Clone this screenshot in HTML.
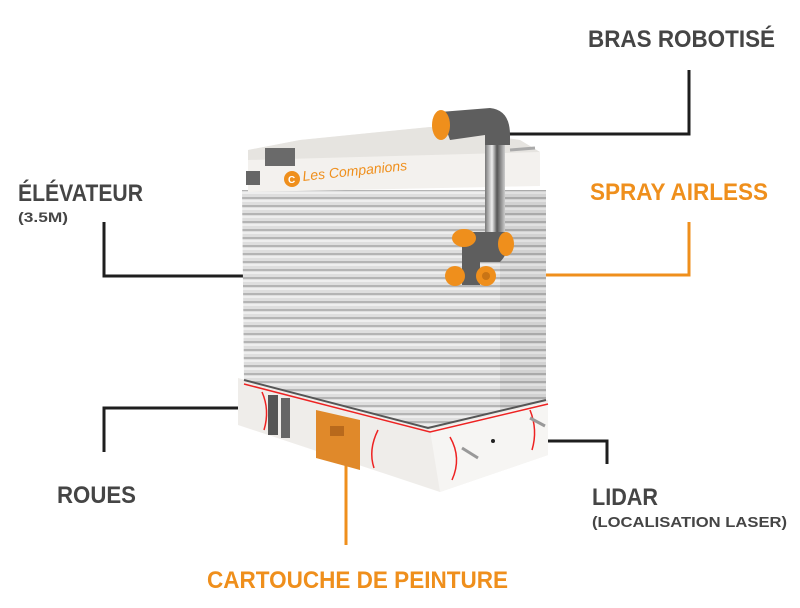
<!DOCTYPE html>
<html><head><meta charset="utf-8"><style>
html,body{margin:0;padding:0;background:#fff;}
svg{display:block}
.t{font-family:"Liberation Sans Narrow","Liberation Sans",sans-serif;font-weight:bold;}
</style></head><body>
<svg width="800" height="608" viewBox="0 0 800 608" xmlns="http://www.w3.org/2000/svg">
<defs>
<pattern id="bel" x="0" y="192" width="10" height="8" patternUnits="userSpaceOnUse">
<rect width="10" height="8" fill="#dedede"/>
<rect y="0" width="10" height="2" fill="#eeeeee"/>
<rect y="5" width="10" height="2" fill="#b4b4b4"/>
</pattern>
<linearGradient id="chrome" x1="0" x2="1">
<stop offset="0" stop-color="#777"/><stop offset="0.35" stop-color="#eee"/><stop offset="0.6" stop-color="#555"/><stop offset="1" stop-color="#ccc"/>
</linearGradient>
</defs>

<!-- connector lines -->
<g stroke="#1e1e1e" stroke-width="3" fill="none">
<polyline points="508,134 689,134 689,70"/>
<polyline points="104,222 104,276 248,276"/>
<polyline points="104,452 104,408 246,408"/>
<polyline points="494,441 607,441 607,464"/>
</g>
<g stroke="#ef8f1c" stroke-width="3" fill="none">
<polyline points="512,275 689,275 689,222"/>
<line x1="346" y1="462" x2="346" y2="545"/>
</g>

<!-- robot base -->
<polygon points="238,378 430,428 548,400 548,455 440,492 238,425" fill="#efedea"/>
<polygon points="430,430 548,402 548,455 440,492" fill="#f6f5f3"/>
<rect x="268" y="395" width="10" height="40" fill="#555"/>
<rect x="281" y="398" width="9" height="40" fill="#666"/>
<polygon points="316,410 360,420 360,470 316,458" fill="#e0892a"/>
<rect x="330" y="426" width="14" height="10" fill="#b8691c"/>
<g stroke="#e22" stroke-width="1.5" fill="none">
<polyline points="244,384 430,432 548,404"/>
<path d="M262,392 Q270,410 264,430"/>
<path d="M378,430 Q368,450 374,468"/>
<path d="M450,437 Q462,458 452,480"/>
<path d="M530,410 Q538,430 532,450"/>
</g>
<g stroke="#999" stroke-width="3">
<line x1="462" y1="448" x2="478" y2="458"/>
<line x1="530" y1="418" x2="545" y2="426"/>
</g>
<circle cx="493" cy="441" r="2" fill="#222"/>

<!-- bellows -->
<polygon points="242,190 546,190 546,400 428,428 244,380" fill="url(#bel)"/>
<polygon points="500,190 546,190 546,400 500,411" fill="#000" opacity="0.05"/>
<polyline points="244,380 428,428 546,400" stroke="#555" stroke-width="2" fill="none"/>

<!-- top cap -->
<polygon points="248,150 300,140 430,127 520,140 540,152 540,186 248,192" fill="#f3f1ee"/>
<polygon points="248,150 300,140 430,127 520,140 540,152 248,160" fill="#e6e4e0"/>
<rect x="265" y="148" width="30" height="18" fill="#6a6a6a"/>
<rect x="246" y="171" width="14" height="14" fill="#666"/>
<circle cx="292" cy="179" r="8" fill="#ef8f1c"/>
<text x="288" y="183" font-family="Liberation Sans" font-size="10" font-weight="bold" fill="#fff">C</text>
<text x="303" y="181" transform="rotate(-6 303 181)" font-family="Liberation Sans" font-style="italic" font-size="14" fill="#ef8f1c">Les Companions</text>
<line x1="510" y1="150" x2="535" y2="148" stroke="#aaa" stroke-width="3"/>

<!-- arm -->
<rect x="485" y="138" width="20" height="105" fill="url(#chrome)"/>
<path d="M440,112 L490,108 Q510,110 510,135 L510,145 L485,145 L485,135 L450,140 Z" fill="#5e5e5e"/>
<ellipse cx="441" cy="125" rx="9" ry="15" fill="#ef8f1c"/>
<path d="M470,232 L505,232 Q512,250 500,262 L480,262 L480,285 L462,285 L462,245 Z" fill="#5e5e5e"/>
<ellipse cx="464" cy="238" rx="12" ry="9" fill="#ef8f1c"/>
<ellipse cx="506" cy="244" rx="8" ry="12" fill="#ef8f1c"/>
<circle cx="455" cy="276" r="10" fill="#ef8f1c"/>
<circle cx="486" cy="276" r="10" fill="#ef8f1c"/>
<circle cx="486" cy="276" r="4" fill="#c97415"/>

<!-- labels -->
<g class="t" fill="#454545">
<text x="588" y="47" font-size="24" textLength="187" lengthAdjust="spacingAndGlyphs">BRAS ROBOTISÉ</text>
<text x="18" y="201" font-size="24" textLength="125" lengthAdjust="spacingAndGlyphs">ÉLÉVATEUR</text>
<text x="18" y="222" font-size="14" textLength="50" lengthAdjust="spacingAndGlyphs">(3.5M)</text>
<text x="57" y="503" font-size="24" textLength="79" lengthAdjust="spacingAndGlyphs">ROUES</text>
<text x="592" y="505" font-size="24" textLength="66" lengthAdjust="spacingAndGlyphs">LIDAR</text>
<text x="592" y="527" font-size="15" textLength="195" lengthAdjust="spacingAndGlyphs">(LOCALISATION LASER)</text>
</g>
<g class="t" fill="#ef8f1c">
<text x="590" y="200" font-size="24" textLength="178" lengthAdjust="spacingAndGlyphs">SPRAY AIRLESS</text>
<text x="207" y="588" font-size="24" textLength="301" lengthAdjust="spacingAndGlyphs">CARTOUCHE DE PEINTURE</text>
</g>
</svg>
</body></html>
